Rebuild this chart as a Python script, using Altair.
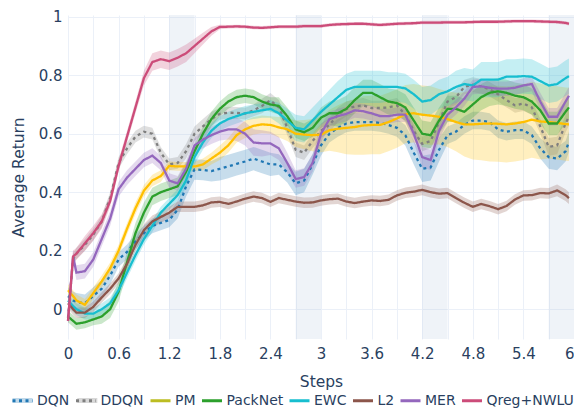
import altair as alt
import pandas as pd

steps = [0, 0.06,
         0.1, 0.2, 0.3, 0.4, 0.5, 0.6, 0.7, 0.8, 0.9, 1.0,
         1.1, 1.2, 1.3, 1.4, 1.5, 1.6, 1.7, 1.8, 1.9, 2.0,
         2.1, 2.2, 2.3, 2.4, 2.5, 2.6, 2.7, 2.8, 2.9, 3.0,
         3.1, 3.2, 3.3, 3.4, 3.5, 3.6, 3.7, 3.8, 3.9, 4.0,
         4.1, 4.2, 4.3, 4.4, 4.5, 4.6, 4.7, 4.8, 4.9, 5.0,
         5.1, 5.2, 5.3, 5.4, 5.5, 5.6, 5.7, 5.8, 5.9, 5.94]

series_names = ["DQN", "DDQN", "PM", "PackNet", "EWC", "L2", "MER", "Qreg+NWLU"]
line_colors = ["#1f77b4", "#7f7f7f", "#ffbf00", "#2ca02c", "#17becf", "#8c564b", "#9467bd", "#cc4c79"]
legend_colors = ["#1f77b4", "#7f7f7f", "#bcbd22", "#2ca02c", "#17becf", "#8c564b", "#9467bd", "#cc4c79"]
banded_names = ["DQN", "DDQN"]
legend_band_colors = ["rgba(31,119,180,0.28)", "rgba(127,127,127,0.3)"]
dashes = [[3, 3.5], [3, 3.5], [1, 0], [1, 0], [1, 0], [1, 0], [1, 0], [1, 0]]

dqn = [0.045, 0.03,
       0.025, 0.02, 0.045, 0.07, 0.115, 0.17, 0.196, 0.232, 0.26, 0.285,
       0.295, 0.305, 0.34, 0.42, 0.478, 0.476, 0.472, 0.48, 0.488, 0.497,
       0.505, 0.515, 0.505, 0.495, 0.495, 0.468, 0.43, 0.44, 0.495, 0.56,
       0.60, 0.62, 0.635, 0.64, 0.64, 0.64, 0.637, 0.63, 0.62, 0.595,
       0.535, 0.48, 0.485, 0.545, 0.595, 0.607, 0.63, 0.645, 0.645, 0.64,
       0.615, 0.607, 0.612, 0.612, 0.595, 0.55, 0.52, 0.515, 0.54, 0.573]
dqn_sd = [0.03, 0.03,
          0.03, 0.03, 0.03, 0.03, 0.03, 0.025, 0.025, 0.025, 0.025, 0.025,
          0.025, 0.025, 0.03, 0.035, 0.035, 0.035, 0.035, 0.04, 0.04, 0.04,
          0.04, 0.04, 0.04, 0.04, 0.035, 0.035, 0.04, 0.04, 0.035, 0.035,
          0.03, 0.03, 0.03, 0.03, 0.03, 0.03, 0.03, 0.03, 0.03, 0.035,
          0.04, 0.045, 0.045, 0.04, 0.03, 0.03, 0.03, 0.03, 0.03, 0.03,
          0.03, 0.03, 0.03, 0.03, 0.03, 0.035, 0.04, 0.04, 0.035, 0.035]

ddqn = [-0.03, 0.17,
        0.19, 0.22, 0.255, 0.30, 0.38, 0.50, 0.55, 0.59, 0.607, 0.60,
        0.535, 0.495, 0.50, 0.54, 0.60, 0.625, 0.65, 0.668, 0.672, 0.671,
        0.669, 0.68, 0.695, 0.714, 0.69, 0.62, 0.545, 0.535, 0.575, 0.61,
        0.63, 0.665, 0.685, 0.693, 0.697, 0.688, 0.688, 0.69, 0.697, 0.665,
        0.61, 0.565, 0.575, 0.64, 0.71, 0.725, 0.76, 0.768, 0.762, 0.752,
        0.735, 0.715, 0.697, 0.703, 0.69, 0.625, 0.555, 0.56, 0.635, 0.658]
ddqn_sd = [0.02, 0.02,
           0.02, 0.02, 0.02, 0.02, 0.02, 0.02, 0.02, 0.02, 0.02, 0.02,
           0.02, 0.02, 0.02, 0.025, 0.025, 0.025, 0.025, 0.02, 0.02, 0.02,
           0.02, 0.02, 0.025, 0.025, 0.025, 0.025, 0.025, 0.025, 0.025, 0.025,
           0.025, 0.025, 0.025, 0.025, 0.025, 0.025, 0.025, 0.025, 0.025, 0.025,
           0.025, 0.025, 0.025, 0.025, 0.025, 0.025, 0.025, 0.025, 0.025, 0.025,
           0.025, 0.025, 0.025, 0.025, 0.025, 0.025, 0.03, 0.03, 0.03, 0.03]

pm = [0.065, 0.045,
      0.03, 0.015, 0.055, 0.095, 0.14, 0.20, 0.275, 0.345, 0.405, 0.44,
      0.455, 0.49, 0.488, 0.488, 0.488, 0.495, 0.515, 0.535, 0.56, 0.595,
      0.615, 0.627, 0.632, 0.63, 0.622, 0.615, 0.60, 0.597, 0.595, 0.597,
      0.612, 0.617, 0.62, 0.623, 0.628, 0.63, 0.63, 0.64, 0.652, 0.667,
      0.67, 0.665, 0.662, 0.658, 0.65, 0.64, 0.632, 0.632, 0.634, 0.635,
      0.634, 0.632, 0.635, 0.64, 0.648, 0.642, 0.64, 0.637, 0.633, 0.632]
pm_sd = [0.02, 0.02,
         0.02, 0.02, 0.02, 0.02, 0.02, 0.02, 0.02, 0.02, 0.02, 0.02,
         0.02, 0.015, 0.015, 0.015, 0.015, 0.02, 0.02, 0.025, 0.025, 0.025,
         0.03, 0.03, 0.03, 0.03, 0.035, 0.04, 0.045, 0.05, 0.055, 0.06,
         0.07, 0.08, 0.09, 0.095, 0.1, 0.1, 0.1, 0.1, 0.1, 0.1,
         0.1, 0.1, 0.1, 0.095, 0.095, 0.1, 0.11, 0.12, 0.125, 0.13,
         0.13, 0.13, 0.13, 0.13, 0.13, 0.13, 0.125, 0.125, 0.125, 0.125]

packnet = [-0.025, -0.04,
           -0.05, -0.045, -0.035, -0.025, 0.0, 0.06, 0.16, 0.26, 0.33, 0.385,
           0.40, 0.41, 0.42, 0.47, 0.54, 0.60, 0.65, 0.685, 0.71, 0.725,
           0.73, 0.725, 0.71, 0.70, 0.695, 0.66, 0.615, 0.605, 0.62, 0.655,
           0.67, 0.67, 0.685, 0.715, 0.74, 0.74, 0.725, 0.71, 0.705, 0.69,
           0.645, 0.60, 0.595, 0.645, 0.685, 0.685, 0.675, 0.70, 0.725, 0.74,
           0.745, 0.74, 0.73, 0.725, 0.71, 0.68, 0.635, 0.635, 0.675, 0.69]
packnet_sd = [0.02, 0.02,
              0.02, 0.02, 0.02, 0.025, 0.03, 0.035, 0.035, 0.035, 0.035, 0.03,
              0.03, 0.03, 0.03, 0.03, 0.025, 0.025, 0.025, 0.025, 0.025, 0.025,
              0.025, 0.025, 0.025, 0.025, 0.03, 0.03, 0.03, 0.03, 0.03, 0.035,
              0.04, 0.045, 0.045, 0.045, 0.045, 0.045, 0.045, 0.045, 0.045, 0.045,
              0.045, 0.045, 0.045, 0.045, 0.045, 0.045, 0.045, 0.045, 0.045, 0.045,
              0.045, 0.045, 0.045, 0.045, 0.045, 0.045, 0.04, 0.04, 0.04, 0.04]

ewc = [0.03, 0.01,
       0.0, -0.015, -0.015, 0.0, 0.02, 0.065, 0.125, 0.185, 0.24, 0.285,
       0.33, 0.36, 0.39, 0.44, 0.52, 0.57, 0.61, 0.635, 0.65, 0.66,
       0.67, 0.675, 0.68, 0.685, 0.67, 0.645, 0.62, 0.615, 0.645, 0.675,
       0.70, 0.725, 0.75, 0.76, 0.76, 0.76, 0.76, 0.76, 0.76, 0.755,
       0.735, 0.71, 0.715, 0.735, 0.745, 0.76, 0.77, 0.765, 0.785, 0.785,
       0.785, 0.795, 0.795, 0.797, 0.795, 0.78, 0.765, 0.77, 0.79, 0.797]
ewc_sd = [0.02, 0.02,
          0.02, 0.02, 0.02, 0.02, 0.02, 0.02, 0.02, 0.02, 0.02, 0.02,
          0.02, 0.02, 0.02, 0.025, 0.025, 0.025, 0.025, 0.025, 0.025, 0.025,
          0.025, 0.025, 0.025, 0.03, 0.035, 0.04, 0.045, 0.045, 0.045, 0.045,
          0.05, 0.055, 0.055, 0.055, 0.055, 0.055, 0.055, 0.05, 0.05, 0.05,
          0.05, 0.05, 0.05, 0.05, 0.05, 0.055, 0.055, 0.055, 0.06, 0.06,
          0.06, 0.06, 0.06, 0.06, 0.06, 0.06, 0.06, 0.06, 0.06, 0.06]

l2 = [0.02, 0.0,
      -0.012, -0.012, 0.008, 0.04, 0.07, 0.105, 0.155, 0.22, 0.27, 0.30,
      0.315, 0.33, 0.35, 0.35, 0.35, 0.355, 0.365, 0.367, 0.36, 0.368,
      0.378, 0.385, 0.38, 0.367, 0.38, 0.374, 0.368, 0.364, 0.365, 0.372,
      0.376, 0.378, 0.368, 0.363, 0.368, 0.372, 0.37, 0.374, 0.389, 0.398,
      0.402, 0.408, 0.40, 0.395, 0.397, 0.38, 0.364, 0.35, 0.36, 0.352,
      0.342, 0.353, 0.375, 0.389, 0.39, 0.397, 0.396, 0.406, 0.39, 0.38]
l2_sd = [0.018, 0.018,
         0.018, 0.018, 0.018, 0.018, 0.018, 0.018, 0.02, 0.02, 0.02, 0.02,
         0.02, 0.02, 0.018, 0.018, 0.018, 0.018, 0.018, 0.018, 0.018, 0.018,
         0.018, 0.018, 0.018, 0.018, 0.018, 0.018, 0.018, 0.018, 0.018, 0.018,
         0.018, 0.018, 0.018, 0.018, 0.018, 0.018, 0.018, 0.018, 0.018, 0.018,
         0.018, 0.018, 0.018, 0.018, 0.018, 0.018, 0.018, 0.018, 0.018, 0.018,
         0.018, 0.018, 0.018, 0.018, 0.018, 0.018, 0.018, 0.02, 0.02, 0.02]

mer = [-0.04, 0.18,
       0.125, 0.13, 0.17, 0.24, 0.31, 0.41, 0.45, 0.48, 0.51, 0.525,
       0.50, 0.44, 0.43, 0.48, 0.56, 0.58, 0.595, 0.607, 0.615, 0.615,
       0.60, 0.57, 0.567, 0.567, 0.55, 0.50, 0.445, 0.452, 0.50, 0.60,
       0.65, 0.66, 0.668, 0.68, 0.677, 0.67, 0.66, 0.66, 0.665, 0.665,
       0.60, 0.52, 0.51, 0.61, 0.665, 0.69, 0.72, 0.76, 0.762, 0.757,
       0.754, 0.754, 0.757, 0.765, 0.77, 0.71, 0.658, 0.658, 0.71, 0.73]
mer_sd = [0.02, 0.025,
          0.025, 0.025, 0.025, 0.025, 0.025, 0.025, 0.025, 0.025, 0.025, 0.025,
          0.025, 0.025, 0.025, 0.025, 0.025, 0.03, 0.03, 0.03, 0.035, 0.04,
          0.04, 0.045, 0.045, 0.04, 0.04, 0.035, 0.03, 0.03, 0.03, 0.03,
          0.025, 0.025, 0.025, 0.025, 0.025, 0.025, 0.025, 0.025, 0.025, 0.025,
          0.03, 0.035, 0.035, 0.03, 0.025, 0.025, 0.025, 0.025, 0.025, 0.025,
          0.025, 0.025, 0.025, 0.025, 0.025, 0.03, 0.03, 0.03, 0.03, 0.03]

qreg = [-0.04, 0.18,
        0.19, 0.225, 0.26, 0.30, 0.37, 0.49, 0.59, 0.69, 0.79, 0.845,
        0.855, 0.848, 0.86, 0.875, 0.90, 0.925, 0.95, 0.965, 0.966, 0.967,
        0.966, 0.963, 0.962, 0.964, 0.966, 0.966, 0.966, 0.968, 0.968, 0.968,
        0.972, 0.974, 0.975, 0.976, 0.976, 0.974, 0.972, 0.974, 0.976, 0.977,
        0.978, 0.98, 0.98, 0.98, 0.981, 0.981, 0.981, 0.982, 0.983, 0.983,
        0.983, 0.984, 0.985, 0.985, 0.985, 0.984, 0.983, 0.982, 0.979, 0.976]
qreg_sd = [0.01, 0.02,
           0.02, 0.025, 0.025, 0.025, 0.02, 0.02, 0.02, 0.02, 0.025, 0.03,
           0.03, 0.03, 0.03, 0.03, 0.025, 0.02, 0.015, 0.008, 0.006, 0.006,
           0.006, 0.006, 0.006, 0.006, 0.006, 0.006, 0.006, 0.006, 0.006, 0.006,
           0.006, 0.006, 0.006, 0.006, 0.006, 0.006, 0.006, 0.006, 0.006, 0.006,
           0.006, 0.006, 0.006, 0.006, 0.006, 0.006, 0.006, 0.006, 0.006, 0.006,
           0.006, 0.006, 0.006, 0.006, 0.006, 0.006, 0.006, 0.006, 0.006, 0.006]

means = [dqn, ddqn, pm, packnet, ewc, l2, mer, qreg]
sds = [dqn_sd, ddqn_sd, pm_sd, packnet_sd, ewc_sd, l2_sd, mer_sd, qreg_sd]

band_start = [1.2, 2.7, 4.2, 5.7]
band_end = [1.5, 3.0, 4.5, 6.0]

x_grid = [0, 0.3, 0.6, 0.9, 1.2, 1.5, 1.8, 2.1, 2.4, 2.7, 3, 3.3, 3.6, 3.9,
          4.2, 4.5, 4.8, 5.1, 5.4, 5.7, 6]
x_labels = ["0", "0.6", "1.2", "1.8", "2.4", "3", "3.6", "4.2", "4.8", "5.4", "6"]
y_ticks = [0, 0.2, 0.4, 0.6, 0.8, 1]

rows = []
for name, m, s in zip(series_names, means, sds):
    for xv, mv, sv in zip(steps, m, s):
        rows.append({"series": name, "step": xv, "mean": mv,
                     "lo": mv - sv, "hi": mv + sv})
df = pd.DataFrame(rows)

legend_df = pd.DataFrame([{"series": n, "step": xv, "mean": 0.5}
                          for n in series_names for xv in (-2, -1)])
legend_band_df = pd.DataFrame([{"series": n, "step": xv, "lo": 0.4, "hi": 0.6}
                               for n in banded_names for xv in (-2, -1)])
bands_df = pd.DataFrame({"start": band_start, "end": band_end})

FONT = "DejaVu Sans"
TXT = "#2a3f5f"
LEG_FS = 14

x_scale = alt.Scale(domain=[0, 6], nice=False, zero=False)
y_scale = alt.Scale(domain=[-0.102, 1.006], nice=False, zero=False)
label_list = "[" + ",".join("'" + l + "'" for l in x_labels) + "]"
x_axis = alt.Axis(values=x_grid, format="~g", labelOverlap=False, labelFlush=False,
                  labelExpr="indexof(" + label_list + ", datum.label) >= 0 ? datum.label : ''",
                  labelAlign=alt.ExprRef(expr="datum.value >= 6 ? 'right' : 'center'"),
                  domain=False, ticks=False, labelPadding=7, titlePadding=13)
y_axis = alt.Axis(values=y_ticks, format="~g", labelFlush=False, domain=False,
                  ticks=False, labelPadding=6, titlePadding=12)

X = alt.X("step:Q", scale=x_scale, axis=x_axis, title="Steps")
Y = alt.Y("mean:Q", scale=y_scale, axis=y_axis, title="Average Return")

line_color = alt.Color("series:N", scale=alt.Scale(domain=series_names, range=line_colors),
                       legend=None)
line_dash = alt.StrokeDash("series:N", scale=alt.Scale(domain=series_names, range=dashes),
                           legend=None)

rects = alt.Chart(bands_df).mark_rect(color="#b0c4de", opacity=0.2).encode(
    x=alt.X("start:Q", scale=x_scale, axis=x_axis, title="Steps"),
    x2="end:Q",
)

areas = alt.Chart(df).mark_area(opacity=0.25).encode(
    x=X,
    y=alt.Y("lo:Q", scale=y_scale, axis=y_axis, title="Average Return"),
    y2="hi:Q",
    color=line_color,
)

lines = alt.Chart(df).mark_line(strokeWidth=2.3).encode(
    x=X, y=Y, color=line_color, strokeDash=line_dash,
)

LEG_X = -57
LEG_Y = 374
COL_PAD = -0.5

# light band drawn behind the dotted DQN / DDQN legend symbols (no label text)
leg_band = alt.Legend(orient="none", legendX=LEG_X, legendY=LEG_Y, direction="horizontal",
                      columns=2, symbolType="M-1,-0.25H1V0.25H-1Z", symbolSize=400,
                      symbolStrokeWidth=3, symbolStrokeColor="transparent",
                      labelOffset=3, columnPadding=COL_PAD + 32.3, padding=0,
                      labelExpr="''", labelFont=FONT, labelFontSize=LEG_FS)

legend_band_layer = alt.Chart(legend_band_df).mark_area(clip=True, opacity=1).encode(
    x=X,
    y=alt.Y("lo:Q", scale=y_scale, axis=y_axis, title="Average Return"),
    y2="hi:Q",
    color=alt.Color("series:N",
                    scale=alt.Scale(domain=banded_names, range=legend_band_colors),
                    legend=leg_band, title=None),
)

leg = alt.Legend(orient="none", legendX=LEG_X, legendY=LEG_Y, direction="horizontal",
                 columns=8, symbolType="stroke", symbolSize=400, symbolStrokeWidth=3,
                 labelOffset=3, columnPadding=COL_PAD, padding=0,
                 labelFont=FONT, labelFontSize=LEG_FS, labelColor=TXT)

legend_layer = alt.Chart(legend_df).mark_line(clip=True, strokeWidth=3).encode(
    x=X, y=Y,
    color=alt.Color("series:N", scale=alt.Scale(domain=series_names, range=legend_colors),
                    legend=leg, title=None),
    strokeDash=alt.StrokeDash("series:N", scale=alt.Scale(domain=series_names, range=dashes),
                              legend=leg, title=None),
)

chart = alt.layer(rects, areas, lines, legend_band_layer, legend_layer).resolve_scale(
    color="independent", strokeDash="independent"
).properties(
    width=506, height=324,
    padding={"left": 60, "top": 7, "right": 0, "bottom": 69},
    autosize=alt.AutoSizeParams(type="none"),
    background="white",
).configure_view(stroke=None).configure_axis(
    gridColor="#ebf0f8", gridWidth=1,
    labelFont=FONT, labelFontSize=15, labelColor=TXT,
    titleFont=FONT, titleFontSize=15.5, titleFontWeight="normal", titleColor=TXT,
)

chart.save("out.html", embed_options={"renderer": "svg", "actions": False})
